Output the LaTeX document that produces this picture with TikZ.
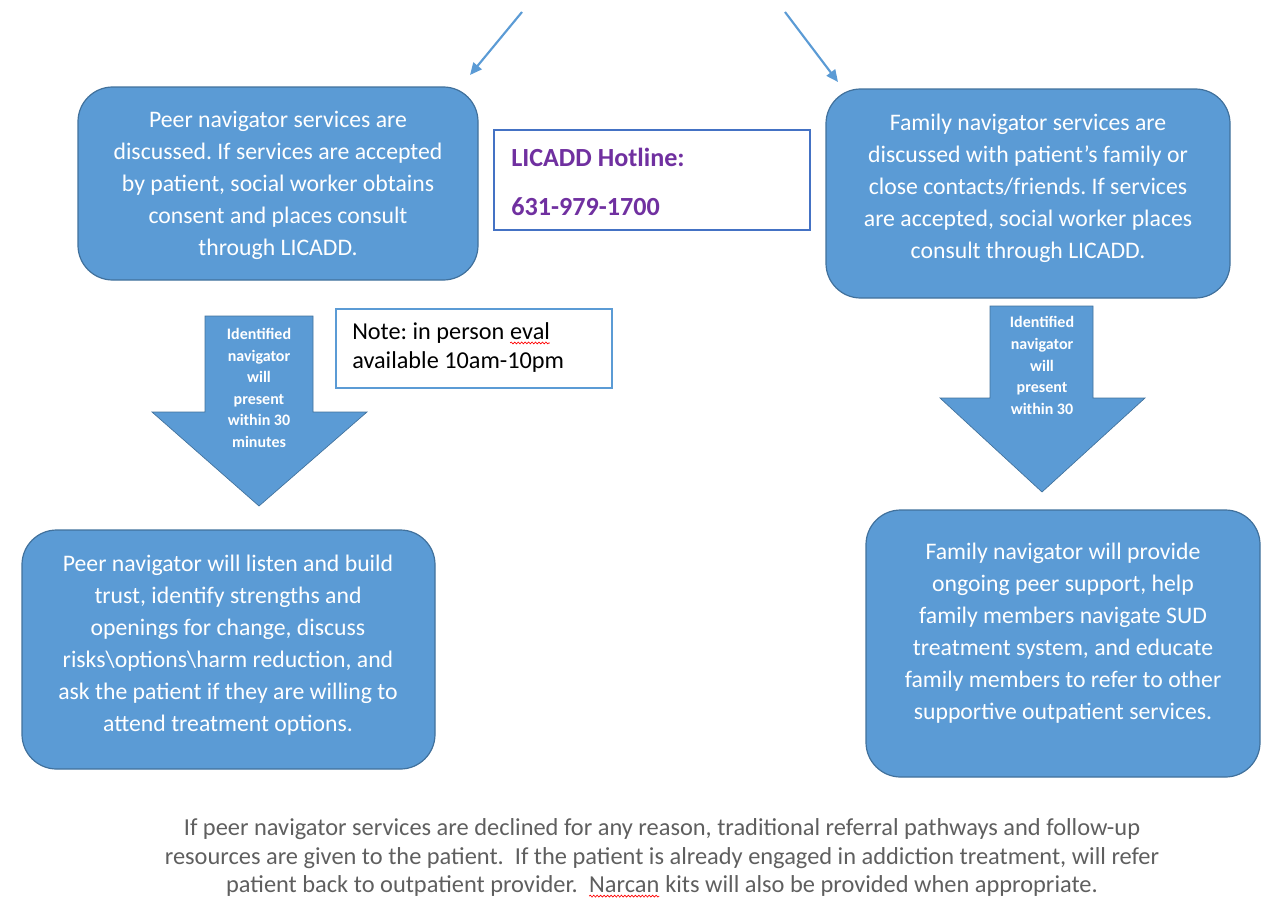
\documentclass[tikz,border=0pt]{standalone}
\usepackage{fontspec}
\setmainfont{Carlito}
\frenchspacing
\usetikzlibrary{arrows.meta,decorations.pathmorphing}
\definecolor{boxblue}{HTML}{5B9BD5}
\definecolor{boxedge}{HTML}{41719C}
\definecolor{hotedge}{HTML}{4472C4}
\definecolor{hotpurple}{HTML}{7030A0}
\definecolor{notegray}{HTML}{5F5F5F}
% red spell-check wave under a word
\newcommand\spellwave[1]{\tikz[baseline=(sw.base)]{\node[inner sep=0pt,outer sep=0pt] (sw) {#1};
  \draw[red, line width=0.5pt, decorate, decoration={snake, amplitude=0.7pt, segment length=2.6pt}]
    ([yshift=-2.6pt]sw.base west) -- ([yshift=-2.6pt]sw.base east);}}
\tikzset{
  bluebox/.style={draw=boxedge, line width=0.9pt, fill=boxblue, rounded corners=26pt, inner sep=0pt},
  boxtext/.style={text=white, align=center, font=\fontsize{17.8}{24}\selectfont, inner sep=0pt},
  arrowtext/.style={text=white, align=center, font=\fontsize{12}{16.2}\selectfont\bfseries, inner sep=0pt},
  infobox/.style={draw=#1, line width=1pt, fill=white, inner sep=0pt},
  flowline/.style={draw=boxblue, line width=1.6pt, -{Triangle[length=9pt,width=8pt]}},
  blockarrow/.style={fill=boxblue, draw=boxedge, line width=0.5pt, line join=miter}
}
\begin{document}
\begin{tikzpicture}[x=0.75pt,y=-0.75pt]
\useasboundingbox (0,0) rectangle (1269,899);

% incoming connectors from above
\coordinate (srcL) at (522,12);
\coordinate (endL) at (470,75);
\coordinate (srcR) at (785,12);
\coordinate (endR) at (838,82);
\draw[flowline] (srcL) -- (endL);
\draw[flowline] (srcR) -- (endR);

% top rounded boxes
\node[bluebox, minimum width=300pt, minimum height=144.75pt] (peerBox) at (278,183.5) {};
\node[boxtext] (peerText) at (278,185) {Peer navigator services are\\discussed. If services are accepted\\by patient, social worker obtains\\consent and places consult\\through LICADD.};

\node[bluebox, minimum width=303pt, minimum height=156.75pt] (famBox) at (1028,193.5) {};
\node[boxtext] (famText) at (1028,188) {Family navigator services are\\discussed with patient's family or\\close contacts/friends. If services\\are accepted, social worker places\\consult through LICADD.};

% hotline box
\node[infobox=hotedge, minimum width=237pt, minimum height=75pt] (hotBox) at (652,180) {};
\node[anchor=west, text=hotpurple, font=\fontsize{19.6}{19.6}\selectfont\bfseries, inner sep=0pt] (hotTitle) at (511,157) {LICADD Hotline:};
\node[anchor=west, text=hotpurple, font=\fontsize{19.6}{19.6}\selectfont\bfseries, inner sep=0pt] (hotNum) at (511,207) {631-979-1700};

% note box
\node[infobox=boxblue, minimum width=207pt, minimum height=59.25pt] (noteBox) at (474,348.5) {};
\node[anchor=west, align=left, font=\fontsize{18.2}{21.75}\selectfont, inner sep=0pt] (noteText) at (352,347.5) {Note: in person \spellwave{eval}\\available 10am-10pm};

% block arrows
\path[blockarrow] (205,316) -- (313,316) -- (313,412) -- (367,412) -- (259,506) -- (152,412) -- (205,412) -- cycle;
\node[arrowtext] (leftArrowText) at (259,388) {Identified\\navigator\\will\\present\\within 30\\minutes};

\path[blockarrow] (990,306) -- (1093,306) -- (1093,398) -- (1145,398) -- (1042,492) -- (940,398) -- (990,398) -- cycle;
\node[arrowtext] (rightArrowText) at (1042,365.5) {Identified\\navigator\\will\\present\\within 30};

% bottom rounded boxes
\node[bluebox, minimum width=309.75pt, minimum height=179.25pt] (listenBox) at (228.5,649.5) {};
\node[boxtext] (listenText) at (228,645) {Peer navigator will listen and build\\trust, identify strengths and\\openings for change, discuss\\risks\textbackslash options\textbackslash harm reduction, and\\ask the patient if they are willing to\\attend treatment options.};

\node[bluebox, minimum width=295.5pt, minimum height=200.25pt] (supportBox) at (1063,643.5) {};
\node[boxtext] (supportText) at (1063,633) {Family navigator will provide\\ongoing peer support, help\\family members navigate SUD\\treatment system, and educate\\family members to refer to other\\supportive outpatient services.};

% closing remark
\node[align=center, text=notegray, font=\fontsize{18.3}{21.4}\selectfont, inner sep=0pt] (remark) at (662,858) {If peer navigator services are declined for any reason, traditional referral pathways and follow-up\\resources are given to the patient.\ \ If the patient is already engaged in addiction treatment, will refer\\patient back to outpatient provider.\ \ \spellwave{Narcan} kits will also be provided when appropriate.};
\end{tikzpicture}
\end{document}
